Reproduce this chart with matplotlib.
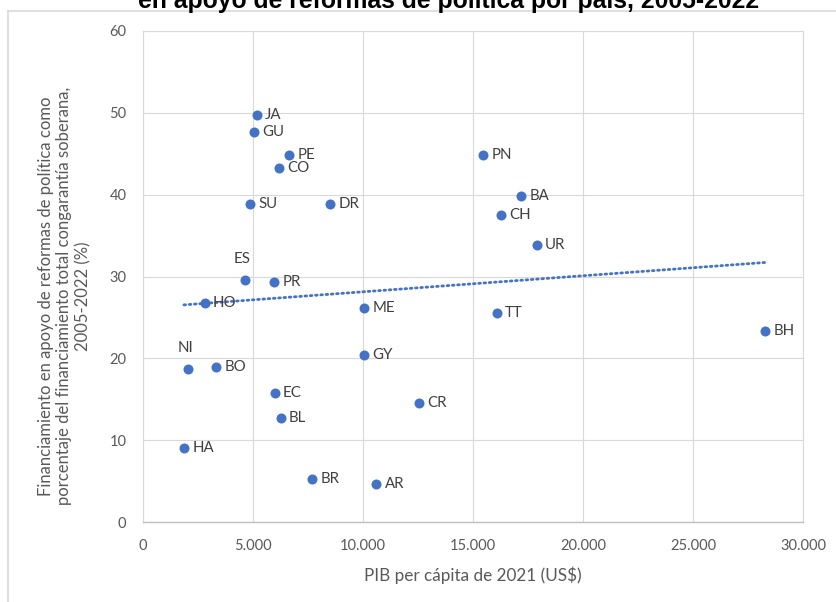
import matplotlib
matplotlib.use("Agg")
from matplotlib import pyplot as plt
from matplotlib.lines import Line2D
from matplotlib.ticker import FuncFormatter
import numpy as np

# Country codes, GDP per capita 2021 (US$) and policy-based share (%)
countries = ["JA", "GU", "PE", "CO", "SU", "DR", "ES", "PR", "HO", "ME",
             "PN", "BA", "CH", "UR", "TT", "BH",
             "NI", "BO", "GY", "EC", "BL", "CR", "HA", "BR", "AR"]
gdp = [5180, 5050, 6650, 6200, 4850, 8500, 4650, 5970, 2800, 10050,
       15470, 17200, 16260, 17900, 16080, 28270,
       2060, 3330, 10050, 5990, 6260, 12550, 1860, 7700, 10600]
share = [49.7, 47.7, 44.9, 43.2, 38.8, 38.8, 29.6, 29.3, 26.8, 26.1,
         44.8, 39.8, 37.5, 33.8, 25.5, 23.4,
         18.7, 18.9, 20.4, 15.75, 12.7, 14.5, 9.1, 5.2, 4.65]

x_ticks = [0, 5000, 10000, 15000, 20000, 25000, 30000]
y_ticks = [0, 10, 20, 30, 40, 50, 60]

blue = "#4472C4"
grid_col = "#d9d9d9"
txt_col = "#595959"
font = "Lato"

fig = plt.figure(figsize=(8.36, 6.02), dpi=100)
ax = fig.add_axes([143/836, 80/602, 660/836, 491/602])

ax.scatter(gdp, share, s=52, color=blue, zorder=3, linewidths=0)

# linear trend line
k, b = np.polyfit(gdp, share, 1)
tx = np.array([min(gdp), max(gdp)])
ax.plot(tx, k*tx + b, color=blue, lw=2, linestyle=(0, (0.6, 1.3)),
        dash_capstyle="round", zorder=2)

# point labels, most to the right, a couple above
for c, xv, yv in zip(countries, gdp, share):
    if c in ("ES", "NI"):
        ax.annotate(c, (xv, yv), xytext=(-2, 10), textcoords="offset points",
                    ha="center", va="bottom", fontsize=10.8, color="#404040",
                    family=font)
    else:
        ax.annotate(c, (xv, yv), xytext=(6, 0), textcoords="offset points",
                    ha="left", va="center", fontsize=10.8, color="#404040",
                    family=font)

ax.set_xlim(0, 30000)
ax.set_ylim(0, 60)
ax.set_xticks(x_ticks)
ax.set_yticks(y_ticks)
ax.xaxis.set_major_formatter(FuncFormatter(lambda v, p: f"{v:,.0f}".replace(",", ".")))
ax.grid(True, color=grid_col, lw=0.8)
ax.set_axisbelow(True)
for s in ["top", "right", "left"]:
    ax.spines[s].set_color(grid_col)
    ax.spines[s].set_linewidth(0.8)
ax.spines["bottom"].set_color("#bfbfbf")
ax.spines["bottom"].set_linewidth(1.0)
ax.tick_params(length=0, colors=txt_col, labelsize=10.5)
ax.tick_params(axis="x", pad=12)
ax.tick_params(axis="y", pad=12)
for lab in ax.get_xticklabels() + ax.get_yticklabels():
    lab.set_family(font)

ax.set_xlabel("PIB per cápita de 2021 (US$)", family=font, fontsize=12.3,
              color=txt_col, labelpad=10)
ax.set_ylabel("Financiamiento en apoyo de reformas de política como\n"
              "porcentaje del financiamiento total congarantía soberana,\n"
              "2005-2022 (%)", family=font, fontsize=12, color=txt_col,
              labelpad=13, linespacing=1.2)
ax.yaxis.label.set_y(0.46)

# chart area border (top and left) and clipped title
fig.add_artist(Line2D([8/836, 8/836], [0, 591/602], color=grid_col, lw=1.2))
fig.add_artist(Line2D([8/836, 1], [591/602, 591/602], color=grid_col, lw=1.2))
fig.text(449/836, 1 - 8/602, "en apoyo de reformas de política por país, 2005-2022",
         ha="center", va="baseline", fontsize=17.8, fontweight="bold",
         family="Liberation Sans", color="black")

fig.savefig("out.png", dpi=100)
